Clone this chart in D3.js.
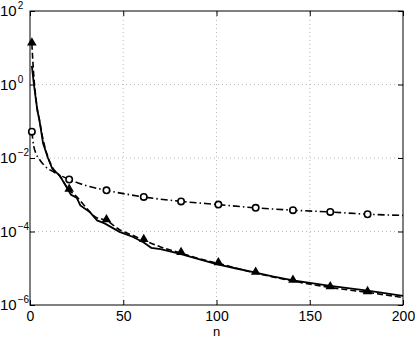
<!DOCTYPE html>
<html>
<head>
<meta charset="utf-8">
<script src="https://cdn.jsdelivr.net/npm/d3@7"></script>
<style>
  body { margin: 0; background: #fff; }
  svg text { font-family: "Liberation Sans", Arial, sans-serif; fill: #000; }
</style>
</head>
<body>
<div id="chart"></div>
<script>
const width = 415;
const height = 338;
const margin = { left: 30, right: 12, top: 11, bottom: 33 };

// solid line, no markers
const solidN = [1, 2, 3, 4, 5, 7, 9.5, 12, 16, 19, 22, 25, 27, 32, 36, 40, 48, 55, 61, 65, 70, 80, 90, 100, 110, 121, 130, 141, 161, 181, 200];
const solidV = [3.2, 1.1, 0.45, 0.19, 0.112, 0.025, 0.0105, 5.0e-3, 3.3e-3, 1.8e-3, 1.0e-3, 8.3e-4, 5.1e-4, 3.4e-4, 2.0e-4, 1.66e-4, 9.8e-5, 7.2e-5, 5.0e-5, 3.6e-5, 3.3e-5, 2.5e-5, 1.8e-5, 1.29e-5, 1.0e-5, 7.6e-6, 6.0e-6, 4.7e-6, 3.3e-6, 2.45e-6, 1.78e-6];

// dashed line, triangle markers
const dashN = [1, 2, 3, 4, 5, 7, 9.5, 12, 16, 21, 25, 30, 35, 41, 48, 55, 61, 70, 81, 91, 101, 121, 141, 161, 181, 200];
const dashV = [12.9, 1.8, 0.5, 0.2, 0.11, 0.032, 0.011, 5.6e-3, 3.2e-3, 1.35e-3, 8.9e-4, 4.5e-4, 2.5e-4, 2.0e-4, 1.12e-4, 7.9e-5, 5.8e-5, 3.8e-5, 2.57e-5, 1.8e-5, 1.35e-5, 7.4e-6, 4.5e-6, 3.0e-6, 2.2e-6, 1.6e-6];

// dash-dot line, circle markers
const dotN = [1, 2, 3, 5, 8, 13, 21, 30, 41, 61, 81, 101, 121, 141, 161, 181, 200];
const dotV = [5.2e-2, 2.1e-2, 1.4e-2, 9.3e-3, 6.0e-3, 4.1e-3, 2.6e-3, 1.78e-3, 1.32e-3, 8.7e-4, 6.6e-4, 5.4e-4, 4.4e-4, 3.8e-4, 3.4e-4, 2.95e-4, 2.75e-4];

const markerN = [1, 21, 41, 61, 81, 101, 121, 141, 161, 181];

const xTicks = [0, 50, 100, 150, 200];
const yTicks = [-6, -4, -2, 0, 2];

const svg = d3.select("#chart")
  .append("svg")
  .attr("width", width)
  .attr("height", height);

const x = d3.scaleLinear().domain([0, 200]).range([margin.left, width - margin.right]);
const y = d3.scaleLog().domain([1e-6, 1e2]).range([height - margin.bottom, margin.top]);

const x0 = margin.left, x1 = width - margin.right;
const y0 = height - margin.bottom, y1 = margin.top;

// grid
const grid = svg.append("g");
grid.selectAll(".gx")
  .data(xTicks.slice(1, -1))
  .enter()
  .append("line")
  .attr("x1", d => x(d)).attr("x2", d => x(d))
  .attr("y1", y0).attr("y2", y1)
  .attr("stroke", "#aaa").attr("stroke-width", 0.8)
  .attr("stroke-dasharray", "1,3");
grid.selectAll(".gy")
  .data(yTicks.slice(1, -1))
  .enter()
  .append("line")
  .attr("x1", x0).attr("x2", x1)
  .attr("y1", d => y(Math.pow(10, d))).attr("y2", d => y(Math.pow(10, d)))
  .attr("stroke", "#aaa").attr("stroke-width", 0.8)
  .attr("stroke-dasharray", "1,3");

// axes
const xAxis = d3.axisBottom(x).tickValues(xTicks).tickSize(-5).tickPadding(6).tickFormat(d3.format("d"));
svg.append("g")
  .attr("transform", `translate(0,${y0})`)
  .call(xAxis)
  .call(g => g.select(".domain").remove())
  .call(g => g.selectAll("line").attr("stroke", "#000"))
  .call(g => g.selectAll("text").attr("font-size", 14).attr("font-family", "Liberation Sans, Arial, sans-serif"));

svg.append("g")
  .attr("transform", `translate(0,${y1})`)
  .call(d3.axisTop(x).tickValues(xTicks).tickSize(-5).tickFormat(""))
  .call(g => g.select(".domain").remove())
  .call(g => g.selectAll("line").attr("stroke", "#000"));

const yAxis = d3.axisLeft(y).tickValues(yTicks.map(e => Math.pow(10, e))).tickSize(-5).tickFormat("");
svg.append("g")
  .attr("transform", `translate(${x0},0)`)
  .call(yAxis)
  .call(g => g.select(".domain").remove())
  .call(g => g.selectAll("line").attr("stroke", "#000"));
svg.append("g")
  .attr("transform", `translate(${x1},0)`)
  .call(d3.axisRight(y).tickValues(yTicks.map(e => Math.pow(10, e))).tickSize(-5).tickFormat(""))
  .call(g => g.select(".domain").remove())
  .call(g => g.selectAll("line").attr("stroke", "#000"));

// y tick labels 10^e, left aligned like the reference
const yl = svg.append("g").selectAll("text")
  .data(yTicks)
  .enter()
  .append("text")
  .attr("x", 0)
  .attr("y", d => y(Math.pow(10, d)) + 5)
  .attr("text-anchor", "start")
  .attr("font-size", 15);
yl.append("tspan").text("10");
yl.append("tspan").attr("font-size", 10).attr("dx", 1).attr("dy", -7).text(d => d < 0 ? "\u2212" + (-d) : d);

// box
svg.append("rect")
  .attr("x", x0).attr("y", y1)
  .attr("width", x1 - x0).attr("height", y0 - y1)
  .attr("fill", "none").attr("stroke", "#000").attr("stroke-width", 1);

svg.append("text")
  .attr("x", x(100)).attr("y", height - 2)
  .attr("text-anchor", "middle")
  .attr("font-size", 13)
  .text("n");

// lines
const plot = svg.append("g");
const mk = (ns, vs) => ns.map((n, i) => ({ n: n, v: vs[i] }));
const solid = mk(solidN, solidV);
const dashed = mk(dashN, dashV);
const dotted = mk(dotN, dotV);

const lineLin = d3.line().x(d => x(d.n)).y(d => y(d.v));
const lineSmooth = d3.line().x(d => x(d.n)).y(d => y(d.v)).curve(d3.curveMonotoneX);

plot.append("path").datum(dotted)
  .attr("d", lineSmooth).attr("fill", "none").attr("stroke", "#000")
  .attr("stroke-width", 1.6).attr("stroke-dasharray", "7,3,1.5,3");
plot.append("path").datum(dashed)
  .attr("d", lineSmooth).attr("fill", "none").attr("stroke", "#000")
  .attr("stroke-width", 1.6).attr("stroke-dasharray", "6,3");
plot.append("path").datum(solid)
  .attr("d", lineLin).attr("fill", "none").attr("stroke", "#000")
  .attr("stroke-width", 1.8);

// markers
plot.selectAll(".tri")
  .data(dashed.filter(d => markerN.includes(d.n)))
  .enter()
  .append("path")
  .attr("d", d3.symbol().type(d3.symbolTriangle).size(40))
  .attr("transform", d => `translate(${x(d.n)},${y(d.v) - 1})`)
  .attr("fill", "#000");

plot.selectAll(".circ")
  .data(dotted.filter(d => markerN.includes(d.n)))
  .enter()
  .append("circle")
  .attr("cx", d => x(d.n)).attr("cy", d => y(d.v))
  .attr("r", 3.2)
  .attr("fill", "#fff").attr("stroke", "#000").attr("stroke-width", 1.6);
</script>
</body>
</html>
